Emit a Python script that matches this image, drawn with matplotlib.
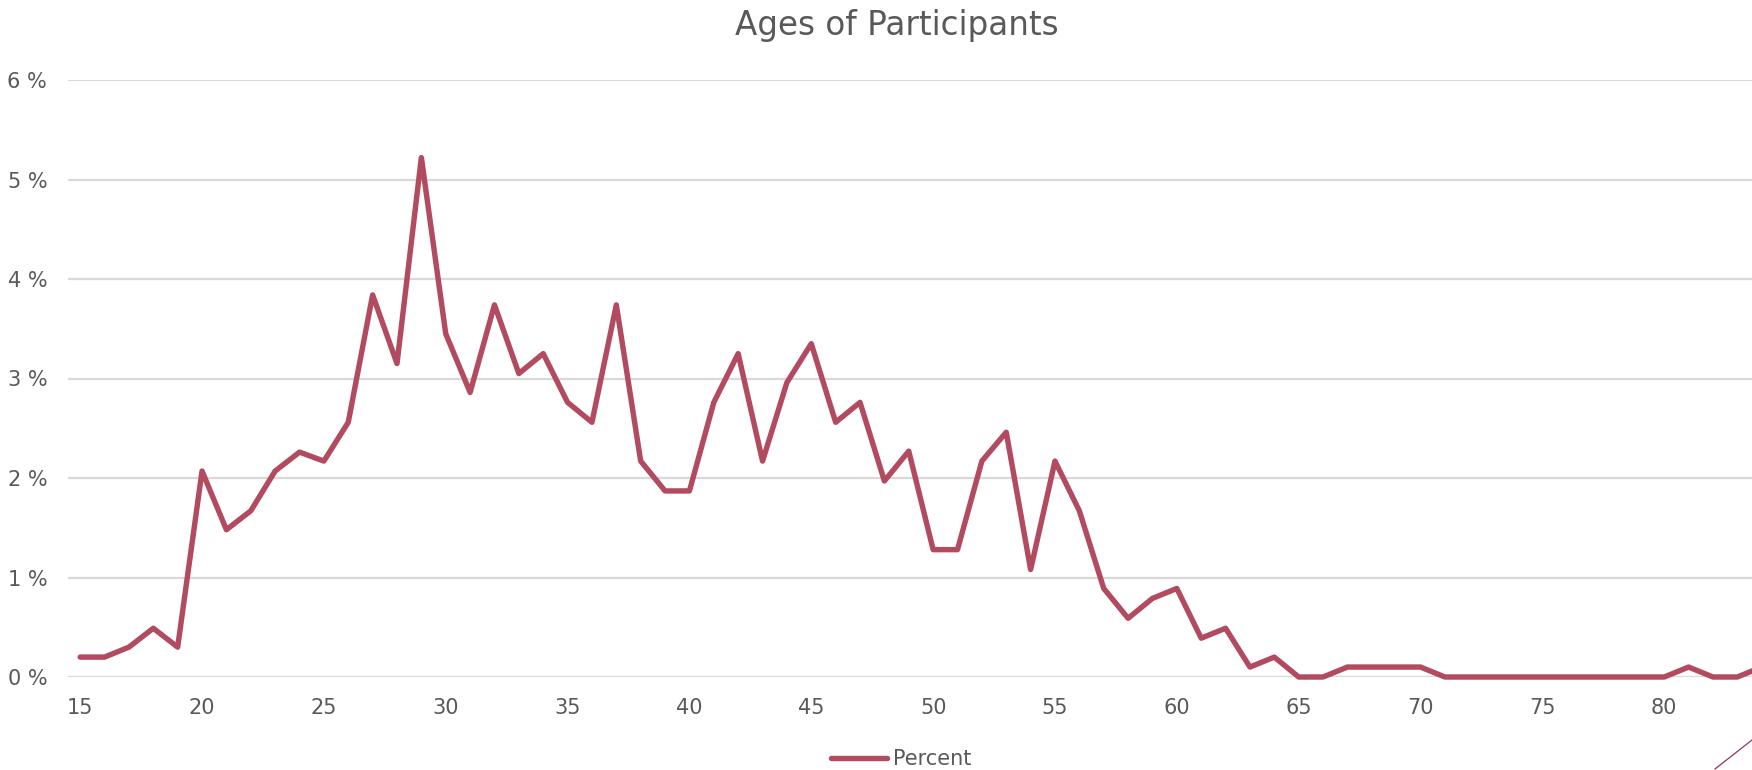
import numpy as np
import matplotlib
matplotlib.use("Agg")
import matplotlib.pyplot as plt
from matplotlib.lines import Line2D
from matplotlib.ticker import FuncFormatter

# Datos (edad -> porcentaje de participantes)
edades = list(range(15, 85))
porcentaje = [
    0.20, 0.20, 0.30, 0.49, 0.30,            # 15-19
    2.07, 1.48, 1.67, 2.07, 2.26,            # 20-24
    2.17, 2.56, 3.84, 3.15, 5.22,            # 25-29
    3.45, 2.86, 3.74, 3.05, 3.25,            # 30-34
    2.76, 2.56, 3.74, 2.17, 1.87,            # 35-39
    1.87, 2.76, 3.25, 2.17, 2.96,            # 40-44
    3.35, 2.56, 2.76, 1.97, 2.27,            # 45-49
    1.28, 1.28, 2.17, 2.46, 1.08,            # 50-54
    2.17, 1.67, 0.89, 0.59, 0.79,            # 55-59
    0.89, 0.39, 0.49, 0.10, 0.20,            # 60-64
    0.00, 0.00, 0.10, 0.10, 0.10,            # 65-69
    0.10, 0.00, 0.00, 0.00, 0.00,            # 70-74
    0.00, 0.00, 0.00, 0.00, 0.00,            # 75-79
    0.00, 0.10, 0.00, 0.00, 0.10,            # 80-84
]
ticks_x = [15, 20, 25, 30, 35, 40, 45, 50, 55, 60, 65, 70, 75, 80]
ticks_y = [0, 1, 2, 3, 4, 5, 6]

color_linea = "#B24A60"
color_texto = "#595959"
color_grilla = "#D9D9D9"

plt.rcParams["font.family"] = ["DejaVu Sans"]

W, H = 1752, 770
fig = plt.figure(figsize=(W / 100, H / 100), dpi=100)
ax = fig.add_axes([68 / W, 1 - 677 / H, (W - 68) / W, (677 - 80) / H])

ax.plot(edades, porcentaje, color=color_linea, lw=3.9, label="Percent",
        solid_joinstyle="round", solid_capstyle="round", clip_on=False, zorder=3)

ax.set_xlim(14.5, 14.5 + (W - 68) / 24.37)
ax.set_ylim(0, 6)
ax.set_xticks(ticks_x)
ax.set_yticks(ticks_y)
ax.yaxis.set_major_formatter(FuncFormatter(lambda v, p: f"{int(v)} %"))

for s in ax.spines.values():
    s.set_visible(False)
ax.grid(axis="y", color=color_grilla, lw=1.6)
ax.set_axisbelow(True)
ax.tick_params(axis="both", length=0, labelsize=15, labelcolor=color_texto)
ax.tick_params(axis="x", pad=15)
ax.tick_params(axis="y", pad=15)

fig.text(897 / W, 1 - 25 / H, "Ages of Participants", ha="center", va="center",
         fontsize=23.5, color=color_texto)

fig.legend(loc="center", bbox_to_anchor=(901 / W, 1 - 759 / H), frameon=False,
           fontsize=15, labelcolor=color_texto, handlelength=2.7, handletextpad=0.25)

# linea decorativa en la esquina inferior derecha
fig.add_artist(Line2D([1715 / W, 1.0], [1 - 769 / H, 1 - 740 / H],
                      transform=fig.transFigure, color="#8E3A4C", lw=0.9))

fig.savefig("out.png", dpi=100, facecolor="white")
